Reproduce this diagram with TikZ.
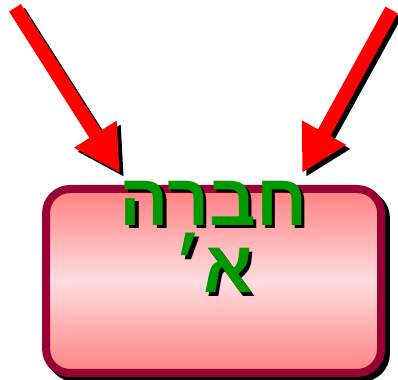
\documentclass[tikz,border=0pt]{standalone}
\usepackage{fontspec}
\newfontfamily\hebfont[Script=Hebrew]{Liberation Sans}
\TeXXeTstate=1
\usetikzlibrary{arrows.meta}
\definecolor{boxedge}{HTML}{990033}
\definecolor{boxpink}{HTML}{FF8080}
\definecolor{boxlight}{HTML}{FFDDE0}
\definecolor{titlegreen}{HTML}{009900}
\begin{document}
\begin{tikzpicture}

\useasboundingbox (0,0) rectangle (9.95,9.5);

\coordinate (ltail) at (0.375,9.305);
\coordinate (ltip) at (3.0,5.175);
\coordinate (rtail) at (9.79,9.25);
\coordinate (rtip) at (7.55,5.175);

% arrow shadows
\draw [black, line width=0.35cm, -{Triangle[width=1.175cm,length=1.15cm]}]
 ([shift={(0.1,-0.1)}]ltail) -- ([shift={(0.1,-0.1)}]ltip);
\draw [black, line width=0.35cm, -{Triangle[width=1.175cm,length=1.15cm]}]
 ([shift={(0.1,-0.1)}]rtail) -- ([shift={(0.1,-0.1)}]rtip);

\draw [red, line width=0.35cm, -{Triangle[width=1.175cm,length=1.15cm]}]
 (ltail) -- (ltip);
\draw [red, line width=0.35cm, -{Triangle[width=1.175cm,length=1.15cm]}]
 (rtail) -- (rtip);


\node [draw=black, fill=black, rectangle, minimum width=8.375cm, minimum height=4.6cm,
line width=0.2cm, rounded corners=0.6cm, xshift=0.12cm, yshift=-0.12cm] (box-shadow)
 at (5.34,2.475) {};

\node [draw=boxedge, rectangle, minimum width=8.375cm, minimum height=4.6cm,
line width=0.2cm, rounded corners=0.6cm,
top color=boxpink, bottom color=boxpink, middle color=boxlight] (box)
 at (5.34,2.475) {};


\node [text=black, align=center, font={\hebfont\bfseries\fontsize{52}{48}\selectfont},
anchor=base, xshift=0.08cm, yshift=-0.08cm] (title-shadow)
 at (5.34,2.175) {\beginR חברה\endR\\\beginR א׳\endR};

\node [text=titlegreen, align=center, font={\hebfont\bfseries\fontsize{52}{48}\selectfont},
anchor=base] (title)
 at (5.34,2.175) {\beginR חברה\endR\\\beginR א׳\endR};

\end{tikzpicture}
\end{document}
